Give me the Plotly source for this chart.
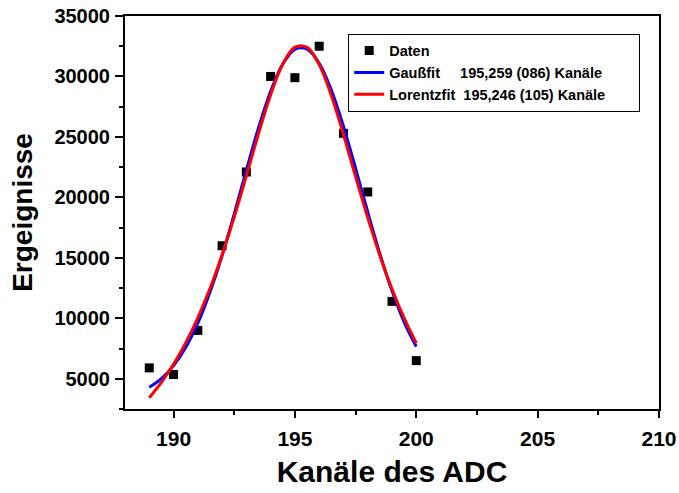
import plotly.graph_objects as go

# Measured spectrum: counts per ADC channel
channels = [189, 190, 191, 192, 193, 194, 195, 196, 197, 198, 199, 200]
counts = [5900, 5350, 9000, 16000, 22100, 30000, 29900, 32500, 25300, 20450, 11400, 6500]

# Fit curves sampled on a half-channel grid
fit_channels = [189, 189.5, 190, 190.5, 191, 191.5, 192, 192.5, 193, 193.5, 194, 194.5,
                195, 195.5, 196, 196.5, 197, 197.5, 198, 198.5, 199, 199.5, 200]
gauss_fit = [4300, 5020, 6090, 7590, 9600, 12160, 15200, 18640, 22250, 25740, 28770, 31020,
             32240, 32260, 31090, 28880, 25870, 22400, 18790, 15340, 12270, 9690, 7660]
lorentz_fit = [3430, 4700, 6200, 7970, 10040, 12460, 15240, 18380, 21780, 25260, 28480, 31020,
               32420, 32410, 30980, 28430, 25200, 21720, 18330, 15200, 12420, 10010, 7940]

NBSP = "\u00a0"
legend_names = [
    "Daten",
    "Gaußfit" + NBSP * 5 + "195,259 (086) Kanäle" + NBSP * 7,
    "Lorentzfit" + NBSP * 2 + "195,246 (105) Kanäle" + NBSP * 7,
]

FONT = "Liberation Sans, Arial, sans-serif"

fig = go.Figure()
fig.add_trace(go.Scatter(
    x=channels, y=counts, mode="markers", name=legend_names[0],
    marker=dict(symbol="square", size=9, color="black"),
))
fig.add_trace(go.Scatter(
    x=fit_channels, y=gauss_fit, mode="lines", name=legend_names[1],
    line=dict(color="#0000ff", width=3, shape="spline", smoothing=1),
))
fig.add_trace(go.Scatter(
    x=fit_channels, y=lorentz_fit, mode="lines", name=legend_names[2],
    line=dict(color="#ff0000", width=3, shape="spline", smoothing=1),
))

def bold(size):
    return dict(family=FONT, size=size, color="black", weight="bold")

fig.update_layout(
    width=679, height=493,
    margin=dict(l=125, r=20, t=16, b=84, autoexpand=False),
    paper_bgcolor="white", plot_bgcolor="white",
    showlegend=True,
    legend=dict(
        x=0.418, y=0.955, xanchor="left", yanchor="top",
        bgcolor="white", bordercolor="black", borderwidth=1,
        font=bold(14.5),
        tracegroupgap=0,
    ),
    xaxis=dict(
        range=[188, 210], tick0=190, dtick=5,
        showline=True, linecolor="black", linewidth=2, mirror=True,
        ticks="outside", ticklen=7, tickwidth=2, tickcolor="black",
        minor=dict(dtick=2.5, tick0=190, ticks="outside", ticklen=4, tickwidth=2, tickcolor="black"),
        showgrid=False, zeroline=False, automargin=False,
        tickfont=bold(21), ticklabelstandoff=3,
        title=dict(text="Kanäle des ADC", font=bold(30), standoff=12),
    ),
    xaxis2=dict(
        range=[188, 210], tick0=190, dtick=5, overlaying="x", side="top", anchor="y",
        showline=True, linecolor="black", linewidth=2,
        ticks="inside", ticklen=7, tickwidth=2, tickcolor="black",
        minor=dict(dtick=2.5, tick0=190, ticks="inside", ticklen=4, tickwidth=2, tickcolor="black"),
        showticklabels=False, showgrid=False, zeroline=False,
    ),
    yaxis=dict(
        range=[2500, 35000], tick0=5000, dtick=5000, tickformat="d",
        showline=True, linecolor="black", linewidth=2, mirror=True,
        ticks="outside", ticklen=8, tickwidth=2, tickcolor="black",
        minor=dict(dtick=2500, tick0=0, ticks="outside", ticklen=4, tickwidth=2, tickcolor="black"),
        showgrid=False, zeroline=False, automargin=False,
        tickfont=bold(20), ticklabelstandoff=1,
        title=dict(text="Ergeignisse", font=bold(28), standoff=14),
    ),
)

fig.write_html("out.html")
